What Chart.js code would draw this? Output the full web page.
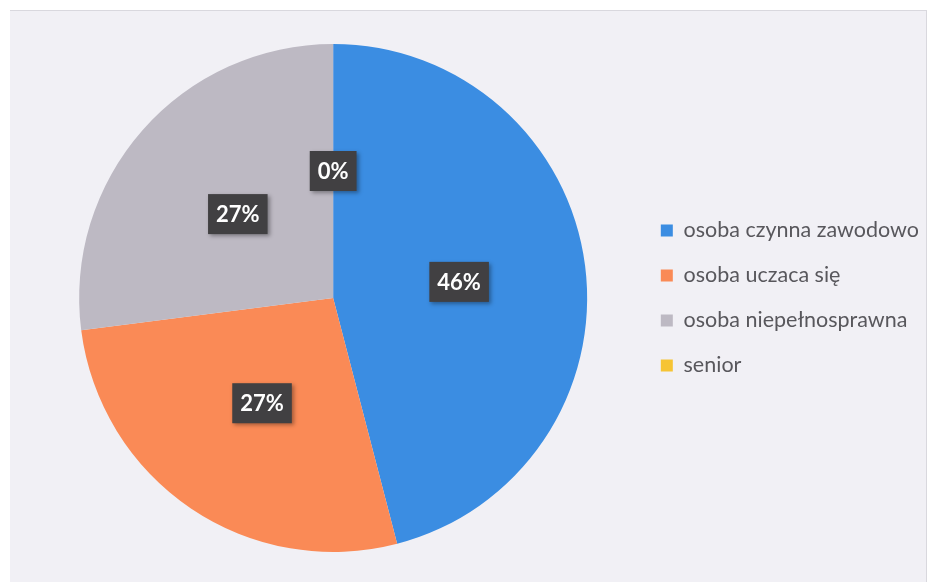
<!DOCTYPE html>
<html>
<head>
<meta charset="utf-8">
<title>Pie chart</title>
<script src="https://cdn.jsdelivr.net/npm/chart.js@4.4.1/dist/chart.umd.min.js"></script>
<style>
    html, body { margin: 0; padding: 0; background: #ffffff; }
    #frame {
        position: absolute; left: 10px; top: 10px; width: 916px; height: 572px;
        background: #f1f0f5; border-top: 1px solid #d9d8de; border-right: 1px solid #d9d8de;
    }
    #pie-chart { position: absolute; left: 0; top: 0; }
</style>
</head>
<body>
<div id="frame"></div>
<canvas id="pie-chart" width="938" height="582"></canvas>
<script>
    const categories = ['osoba czynna zawodowo', 'osoba uczaca się', 'osoba niepełnosprawna', 'senior'];
    const counts = [17, 10, 10, 0];
    const sliceColors = ['#3b8de2', '#fa8a56', '#bdb9c3', '#f6c434'];

    const FONT_FAMILY = 'Lato, "Open Sans", sans-serif';

    // Percent labels in dark boxes, placed at each slice's center point
    const percentLabels = {
        id: 'percentLabels',
        afterDatasetsDraw(chart) {
            const ctx = chart.ctx;
            const meta = chart.getDatasetMeta(0);
            const total = counts.reduce((a, b) => a + b, 0);

            ctx.save();
            ctx.font = 'bold 22px ' + FONT_FAMILY;
            ctx.textAlign = 'center';
            ctx.textBaseline = 'middle';

            meta.data.forEach((arc, i) => {
                const p = arc.getCenterPoint();
                const text = Math.round(counts[i] / total * 100) + '%';
                const w = ctx.measureText(text).width + 16;
                const h = 40;

                ctx.shadowColor = 'rgba(0, 0, 0, 0.35)';
                ctx.shadowBlur = 4;
                ctx.shadowOffsetX = 2;
                ctx.shadowOffsetY = 2;
                ctx.fillStyle = '#414042';
                ctx.fillRect(p.x - w / 2, p.y - h / 2, w, h);

                ctx.shadowColor = 'transparent';
                ctx.fillStyle = '#ffffff';
                ctx.fillText(text, p.x, p.y + 1);
            });
            ctx.restore();
        }
    };

    function initChart() {
        new Chart(document.getElementById('pie-chart'), {
            type: 'pie',
            data: {
                labels: categories,
                datasets: [{
                    data: counts,
                    backgroundColor: sliceColors,
                    borderWidth: 0
                }]
            },
            options: {
                responsive: false,
                animation: false,
                layout: {
                    padding: { left: 29, right: 9, top: 44, bottom: 30 }
                },
                plugins: {
                    tooltip: { enabled: false },
                    legend: {
                        position: 'right',
                        labels: {
                            boxWidth: 12,
                            boxHeight: 12,
                            padding: 23.5,
                            color: '#58575c',
                            font: { family: FONT_FAMILY, size: 21.5 }
                        }
                    }
                }
            },
            plugins: [percentLabels]
        });
    }

    initChart();
</script>
</body>
</html>
